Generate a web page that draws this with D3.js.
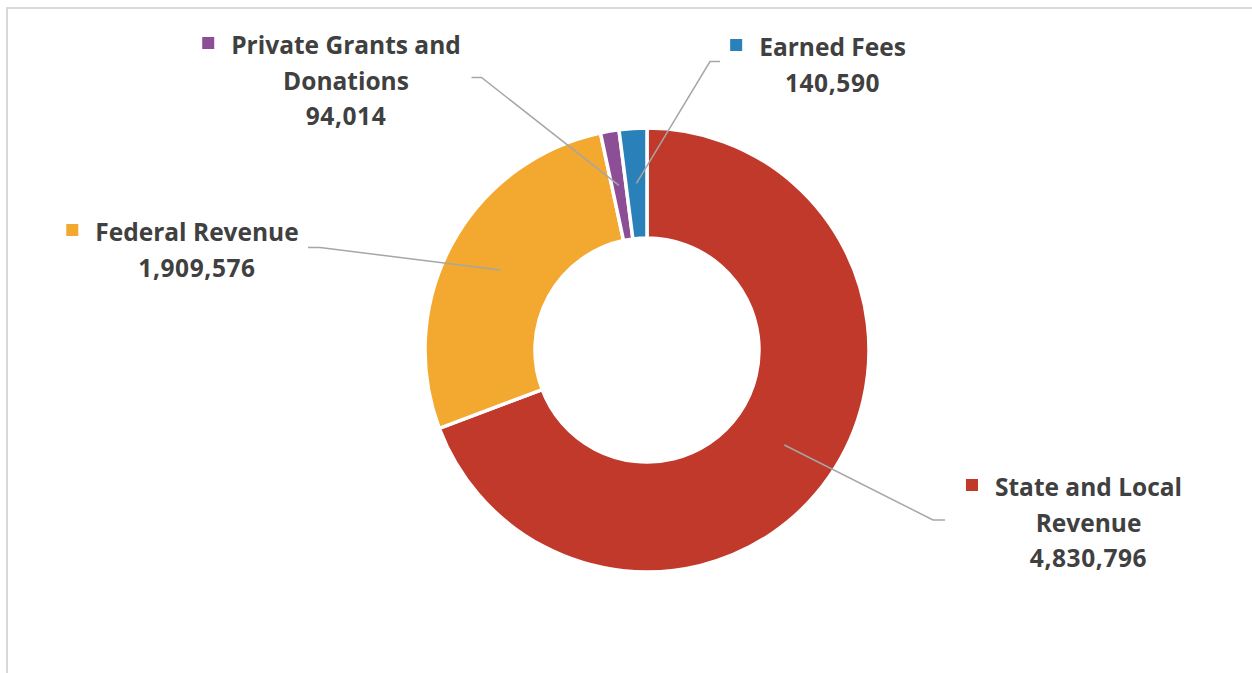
<!DOCTYPE html>
<html>
<head>
<meta charset="utf-8">
<script src="https://cdn.jsdelivr.net/npm/d3@7"></script>
<style>
  html, body { margin: 0; padding: 0; background: #ffffff; }
  svg { display: block; }
  text { font-family: "Open Sans", "Noto Sans", sans-serif; font-weight: 700; fill: #404040; }
</style>
</head>
<body>
<svg id="chart" width="1252" height="673"></svg>
<script>
// Revenue sources (drawn clockwise from 12 o'clock)
const categories = ["State and Local Revenue", "Federal Revenue", "Private Grants and Donations", "Earned Fees"];
const values = [4830796, 1909576, 94014, 140590];
const colors = ["#c0392b", "#f3a830", "#8c4f96", "#2a80b9"];
// Label text broken into lines as displayed
const labelLines = [
  ["State and Local", "Revenue"],
  ["Federal Revenue"],
  ["Private Grants and", "Donations"],
  ["Earned Fees"]
];

// Label placement: text centre x, first baseline y, and leader line end / elbow
const labelLayout = [
  { cx: 1088.5, y: 496, end: [945, 520],   elbow: [933, 520] },
  { cx: 197,    y: 241, end: [308, 247.5], elbow: [320, 247.5] },
  { cx: 346,    y: 54,  end: [471.5, 77.5], elbow: [481.5, 77.5] },
  { cx: 832.5,  y: 56,  end: [720, 61.5],  elbow: [710, 61.5] }
];

const svg = d3.select("#chart");
const cx = 647, cy = 350;
const outerR = 222, innerR = 112;
const lineGap = 35.5;
const fontSize = 24.5;

// Chart area frame (left and top edges visible)
svg.append("path")
  .attr("d", "M7,700 L7,8 L1260,8")
  .attr("fill", "none")
  .attr("stroke", "#d9d9d9")
  .attr("stroke-width", 2);

const fmt = d3.format(",");
const data = categories.map((c, i) => ({ name: c, value: values[i], color: colors[i], lines: labelLines[i], layout: labelLayout[i] }));

const pie = d3.pie().sort(null).value(d => d.value);
const arc = d3.arc().innerRadius(innerR).outerRadius(outerR);
const arcs = pie(data);

const g = svg.append("g").attr("transform", `translate(${cx},${cy})`);
g.selectAll("path.slice")
  .data(arcs)
  .join("path")
  .attr("class", "slice")
  .attr("d", arc)
  .attr("fill", d => d.data.color)
  .attr("stroke", "#ffffff")
  .attr("stroke-width", 3.5)
  .attr("stroke-linejoin", "miter");

// Leader lines from each slice centroid to its label
svg.selectAll("polyline.leader")
  .data(arcs)
  .join("polyline")
  .attr("class", "leader")
  .attr("points", d => {
    const c = arc.centroid(d);
    const L = d.data.layout;
    return [[cx + c[0], cy + c[1]], L.elbow, L.end].map(p => p.join(",")).join(" ");
  })
  .attr("fill", "none")
  .attr("stroke", "#a6a6a6")
  .attr("stroke-width", 1.5);

// Labels: category lines, value line, and a colour key square
arcs.forEach(d => {
  const L = d.data.layout;
  const lines = d.data.lines.concat([fmt(d.data.value)]);
  const lg = svg.append("g");
  const texts = lines.map((t, i) => lg.append("text")
    .attr("x", L.cx)
    .attr("y", L.y + i * lineGap)
    .attr("text-anchor", "middle")
    .attr("font-size", fontSize)
    .attr("letter-spacing", i === lines.length - 1 ? 0.6 : 0)
    .text(t));
  const w = texts[0].node().getComputedTextLength();
  lg.append("rect")
    .attr("x", L.cx - w / 2 - 17 - 12)
    .attr("y", L.y - 17)
    .attr("width", 12)
    .attr("height", 12)
    .attr("fill", d.data.color);
});
</script>
</body>
</html>
